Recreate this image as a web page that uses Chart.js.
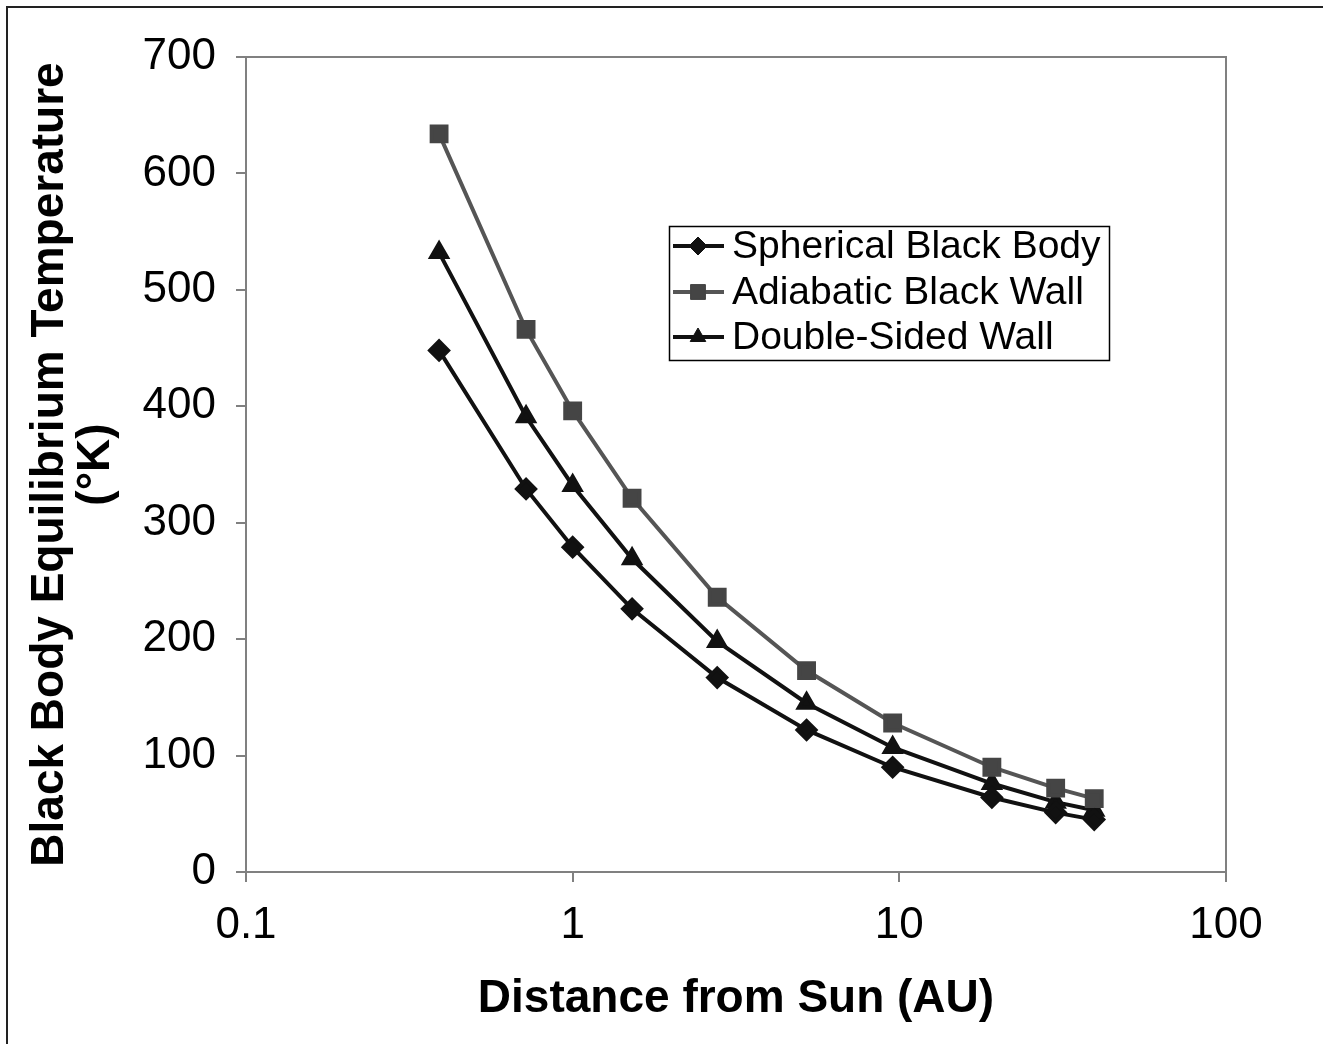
<!DOCTYPE html>
<html>
<head>
<meta charset="utf-8">
<script src="https://cdn.jsdelivr.net/npm/chart.js@4"></script>
<style>
  html, body { margin: 0; padding: 0; background: #fff; }
</style>
</head>
<body>
<canvas id="chart" width="1323" height="1044"></canvas>
<script>
// data
const distances = [0.39, 0.72, 1, 1.52, 2.77, 5.2, 9.54, 19.2, 30.1, 39.5];
const spherical = [448, 329, 279, 226, 167, 122, 90, 64, 51, 45];
const adiabatic = [634, 466, 396, 321, 236, 173, 128, 90, 72, 63];
const doubleSided = [532, 391, 332, 269, 198, 145, 107, 76, 60, 53];
const seriesNames = ["Spherical Black Body", "Adiabatic Black Wall", "Double-Sided Wall"];
const xTicks = [0.1, 1, 10, 100];
const yTicks = [0, 100, 200, 300, 400, 500, 600, 700];

const FONT = "'Liberation Sans', Arial, sans-serif";
const AXIS_GRAY = "#808080";

function toPoints(values) {
  return distances.map((d, i) => ({ x: d, y: values[i] }));
}

// frame, outer border and the legend box
const decorPlugin = {
  id: "decor",
  beforeDraw(chart) {
    const c = chart.ctx;
    c.save();
    c.strokeStyle = "#222";
    c.lineWidth = 2;
    c.beginPath();
    c.moveTo(7, 1044);
    c.lineTo(7, 7);
    c.lineTo(1323, 7);
    c.stroke();
    c.restore();
  },
  afterDraw(chart) {
    const c = chart.ctx;
    const a = chart.chartArea;
    c.save();
    c.strokeStyle = AXIS_GRAY;
    c.lineWidth = 2;
    c.beginPath();
    c.moveTo(a.left, a.top);
    c.lineTo(a.right, a.top);
    c.lineTo(a.right, a.bottom);
    c.stroke();

    // legend
    c.strokeStyle = "#000";
    c.lineWidth = 1.5;
    c.strokeRect(669.5, 226.5, 440, 134);
    const rowsY = [246, 292, 337];
    chart.data.datasets.forEach((ds, i) => {
      const y = rowsY[i];
      c.strokeStyle = ds.borderColor;
      c.lineWidth = 4;
      c.beginPath();
      c.moveTo(673, y);
      c.lineTo(724, y);
      c.stroke();
      c.fillStyle = ds.pointBackgroundColor;
      c.strokeStyle = ds.pointBorderColor;
      c.lineWidth = 1;
      Chart.helpers.drawPoint(c, { pointStyle: ds.pointStyle, radius: ds.pointRadius, rotation: 0, borderWidth: 1 }, 698, y);
      c.fillStyle = "#000";
      c.font = "39px " + FONT;
      c.textBaseline = "middle";
      c.textAlign = "left";
      c.fillText(ds.label, 732, y + 1);
    });
    c.restore();
  }
};

const ctx = document.getElementById("chart").getContext("2d");
new Chart(ctx, {
  type: "line",
  data: {
    datasets: [
      {
        label: seriesNames[0],
        data: toPoints(spherical),
        borderColor: "#111",
        borderWidth: 4,
        pointStyle: "rectRot",
        pointRadius: 9,
        pointBackgroundColor: "#111",
        pointBorderColor: "#111",
        tension: 0
      },
      {
        label: seriesNames[1],
        data: toPoints(adiabatic),
        borderColor: "#555",
        borderWidth: 4,
        pointStyle: "rect",
        pointRadius: 10.5,
        pointBackgroundColor: "#454545",
        pointBorderColor: "#454545",
        tension: 0
      },
      {
        label: seriesNames[2],
        data: toPoints(doubleSided),
        borderColor: "#111",
        borderWidth: 4,
        pointStyle: "triangle",
        pointRadius: 9,
        pointBackgroundColor: "#111",
        pointBorderColor: "#111",
        tension: 0
      }
    ]
  },
  options: {
    responsive: false,
    animation: false,
    layout: { padding: { top: 57, right: 97, left: 0, bottom: 0 } },
    plugins: {
      legend: { display: false },
      tooltip: { enabled: false }
    },
    scales: {
      x: {
        type: "logarithmic",
        min: 0.1,
        max: 100,
        afterBuildTicks: s => { s.ticks = xTicks.map(v => ({ value: v })); },
        afterFit: s => { s.height = 172; },
        ticks: {
          callback: v => String(v),
          color: "#000",
          font: { family: FONT, size: 44 },
          padding: 17,
          maxRotation: 0,
          autoSkip: false
        },
        grid: { drawOnChartArea: false, tickLength: 10, color: AXIS_GRAY, lineWidth: 2 },
        border: { color: AXIS_GRAY, width: 2 },
        title: {
          display: true,
          text: "Distance from Sun (AU)",
          color: "#000",
          font: { family: FONT, size: 46, weight: "bold", lineHeight: 1.2 },
          padding: { top: 0, bottom: 17 }
        }
      },
      y: {
        min: 0,
        max: 700,
        afterBuildTicks: s => { s.ticks = yTicks.map(v => ({ value: v })); },
        afterFit: s => { s.width = 246; },
        ticks: {
          color: "#000",
          font: { family: FONT, size: 44 },
          padding: 20
        },
        grid: { drawOnChartArea: false, tickLength: 10, color: AXIS_GRAY, lineWidth: 2 },
        border: { color: AXIS_GRAY, width: 2 },
        title: {
          display: true,
          text: ["Black Body Equilibrium Temperature", "(°K)"],
          color: "#000",
          font: { family: FONT, size: 46, weight: "bold", lineHeight: 1.0 },
          padding: { top: 27, bottom: 0 }
        }
      }
    }
  },
  plugins: [decorPlugin]
});
</script>
</body>
</html>
